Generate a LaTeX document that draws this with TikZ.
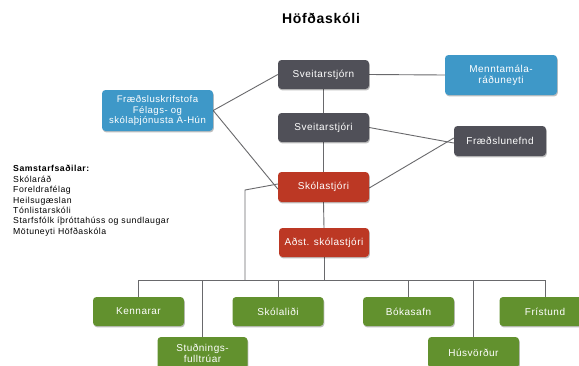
\documentclass[tikz,border=0pt]{standalone}
\usepackage{fontspec}
\setmainfont{Liberation Sans}
\newfontfamily\boxfont[LetterSpace=5]{Liberation Sans}
\newfontfamily\listfont[LetterSpace=6]{Liberation Sans}
\usetikzlibrary{shadows,backgrounds}
\definecolor{cgray}{RGB}{80,80,88}
\definecolor{cblue}{RGB}{62,152,200}
\definecolor{cred}{RGB}{188,56,36}
\definecolor{cgreen}{RGB}{98,145,46}
\definecolor{cline}{RGB}{105,105,108}
\tikzset{
  orgbox/.style={rounded corners=3.5pt, text=white, align=center,
    inner sep=0pt, minimum width=91pt, minimum height=29pt,
    font=\boxfont\fontsize{10}{10.8}\selectfont,
    drop shadow={shadow xshift=0.8pt, shadow yshift=-1.4pt, opacity=0.25, fill=black}},
  graybox/.style={orgbox, fill=cgray},
  bluebox/.style={orgbox, fill=cblue},
  redbox/.style={orgbox, fill=cred},
  greenbox/.style={orgbox, fill=cgreen},
  conn/.style={draw=cline, line width=0.9pt}
}
\begin{document}
\begin{tikzpicture}[x=1pt,y=-1pt]
\useasboundingbox (0,0) rectangle (579,365);

\node (title) at (321,18) {\boxfont\fontsize{14}{16}\selectfont\bfseries Höfðaskóli};

\node[graybox] (sjorn) at (323.5,74.5) {Sveitarstjórn};
\node[graybox] (sjori) at (323.5,127.5) {Sveitarstjóri};
\node[redbox, minimum height=30pt] (skst) at (323.5,187) {Skólastjóri};
\node[bluebox, minimum width=111pt, minimum height=41pt,
      font=\boxfont\fontsize{9.6}{10.6}\selectfont] (fraed) at (157.5,110.5)
  {Fræðsluskrifstofa\\Félags- og\\skólaþjónusta A-Hún};
\node[bluebox, minimum width=112pt, minimum height=40pt] (menn) at (501,75)
  {Menntamála-\\ráðuneyti};
\node[graybox, minimum width=92pt, minimum height=30pt] (nefnd) at (500,141) {Fræðslunefnd};
\node[redbox, minimum width=90pt] (adst) at (324,242.5) {Aðst. skólastjóri};

\node[greenbox] (kenn) at (138.5,311.5) {Kennarar};
\node[greenbox] (skoli) at (278,311.5) {Skólaliði};
\node[greenbox] (boka) at (408.5,311.5) {Bókasafn};
\node[greenbox] (frist) at (545,311.5) {Frístund};
\node[greenbox, minimum width=90pt, minimum height=32pt] (studn) at (202.5,353) {Stuðnings-\\fulltrúar};
\node[greenbox, minimum width=91pt, minimum height=31pt] (husv) at (473.5,352.5) {Húsvörður};

\node[anchor=north west, align=left, inner sep=0pt,
      font=\listfont\fontsize{8.7}{10.4}\selectfont] (list) at (13,165.3)
  {{\bfseries Samstarfsaðilar:}\\Skólaráð\\Foreldrafélag\\Heilsugæslan\\Tónlistarskóli\\Starfsfólk íþróttahúss og sundlaugar\\Mötuneyti Höfðaskóla};

\coordinate (busL) at (138.5,280);
\coordinate (busR) at (545,280);
\coordinate (bend) at (245,190);

\begin{scope}[on background layer]
\fill[white] (0,0) rectangle (579,365);
\draw[conn] (fraed.east) -- (sjorn.west);
\draw[conn] (fraed.east) -- ([yshift=-2pt]skst.west);
\draw[conn] (sjorn.east) -- (menn.west);
\draw[conn] (sjori.east) -- ([yshift=-2pt]nefnd.west);
\draw[conn] ([yshift=-1pt]skst.east) -- ([yshift=3pt]nefnd.west);
\draw[conn] (sjorn.south) -- (sjori.north);
\draw[conn] (sjori.south) -- (skst.north);
\draw[conn] (skst.south) -- (adst.north);
\draw[conn] (adst.south) -- (adst.south |- busL);
\draw[conn] ([yshift=3pt]skst.west) -- (bend) -- (bend |- busL);
\draw[conn] (busL) -- (busR);
\draw[conn] (kenn.north) -- (busL);
\draw[conn] (frist.north) -- (busR);
\draw[conn] (skoli.north) -- (skoli.north |- busL);
\draw[conn] (boka.north) -- (boka.north |- busL);
\draw[conn] (studn.north) -- (studn.north |- busL);
\draw[conn] (husv.north) -- (husv.north |- busL);
\end{scope}
\end{tikzpicture}
\end{document}
